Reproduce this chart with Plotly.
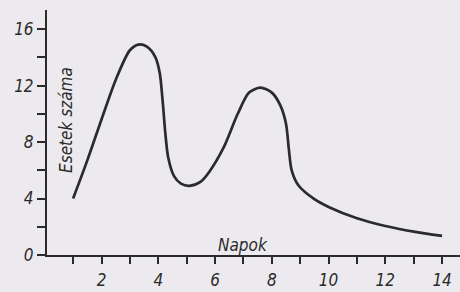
import plotly.graph_objects as go

# Values (day, number of cases)
days = [1.0, 1.5, 2.0, 2.5, 3.0, 3.3, 3.6, 3.9, 4.05, 4.15, 4.25, 4.35, 4.55, 4.8, 5.1, 5.5, 5.8,
        6.3, 6.8, 7.2, 7.6, 8.0, 8.3, 8.5, 8.6, 8.7, 8.95, 9.5, 10.0, 11.0, 12.0, 13.0, 14.0]
cases = [4.0, 6.7, 9.6, 12.4, 14.5, 14.9, 14.75, 14.0, 12.9, 11.0, 8.6, 6.9, 5.6, 5.05, 4.9, 5.2, 5.9,
         7.6, 10.0, 11.5, 11.85, 11.5, 10.6, 9.3, 7.5, 6.0, 4.9, 3.95, 3.4, 2.6, 2.05, 1.65, 1.35]

x_tick_vals = list(range(1, 15))
x_tick_text = [str(v) if v % 2 == 0 else "" for v in x_tick_vals]
y_tick_vals = list(range(0, 17, 2))
y_tick_text = [str(v) if v % 4 == 0 else "" for v in y_tick_vals]

x_title = "Napok"
y_title = "Esetek száma"

bg = "#EDEAEF"
ink = "#2b2b2b"
fam = "Liberation Sans Narrow, DejaVu Sans Condensed, DejaVu Sans, sans-serif"

fig = go.Figure(go.Scatter(
    x=days, y=cases, mode="lines",
    line=dict(shape="spline", smoothing=0.8, color=ink, width=2.7),
    hoverinfo="skip",
))

fig.update_layout(
    width=460, height=292,
    margin=dict(l=47, r=0, t=10, b=37),
    paper_bgcolor=bg, plot_bgcolor=bg,
    showlegend=False,
    font=dict(family=fam, style="italic", size=17, color=ink),
)

fig.update_xaxes(
    range=[0.08, 14.63], showgrid=False, zeroline=False,
    showline=True, linecolor=ink, linewidth=2,
    ticks="outside", ticklen=7, tickwidth=1.6, tickcolor=ink,
    tickvals=x_tick_vals, ticktext=x_tick_text,
    ticklabelstandoff=2, tickfont=dict(size=17),
)
fig.update_yaxes(
    range=[0, 17.35], showgrid=False, zeroline=False,
    showline=True, linecolor=ink, linewidth=2,
    ticks="outside", ticklen=8, tickwidth=1.6, tickcolor=ink,
    tickvals=y_tick_vals, ticktext=y_tick_text,
)

fig.add_annotation(
    text=x_title, xref="paper", yref="paper",
    x=(243 - 47) / 413, y=(255 - 245) / 245,
    xanchor="center", yanchor="middle", showarrow=False,
    font=dict(size=17),
)
fig.add_annotation(
    text=y_title, xref="paper", yref="paper",
    x=(66 - 47) / 413, y=(255 - 120) / 245,
    xanchor="center", yanchor="middle", showarrow=False,
    textangle=-90, font=dict(size=17),
)

fig.write_html(
    "out.html",
    config={"displayModeBar": False},
    post_script="document.body.style.margin='0';document.body.style.padding='0';"
                "document.body.style.overflow='hidden';document.body.style.background='" + bg + "';",
)
